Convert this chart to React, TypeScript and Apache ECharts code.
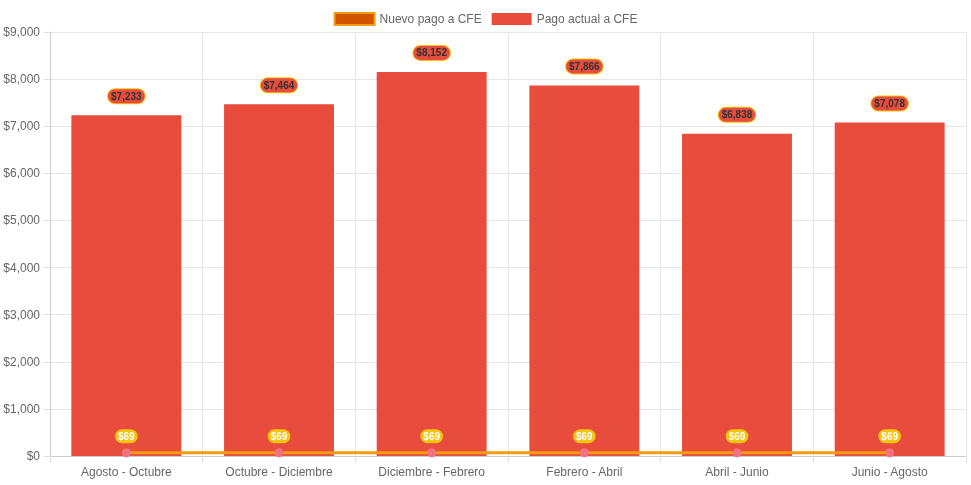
import React, { useEffect, useRef } from "react";
import * as echarts from "echarts";

const categories = [
  "Agosto - Octubre",
  "Octubre - Diciembre",
  "Diciembre - Febrero",
  "Febrero - Abril",
  "Abril - Junio",
  "Junio - Agosto",
];
const pagoActual = [7233, 7464, 8152, 7866, 6838, 7078];
const nuevoPago = [69, 69, 69, 69, 69, 69];
const seriesNames = ["Nuevo pago a CFE", "Pago actual a CFE"];

const fmt = (v: number) => "$" + v.toLocaleString("en-US");

export default function App() {
  const ref = useRef<HTMLDivElement>(null);
  useEffect(() => {
    if (!ref.current) return;
    const chart = echarts.init(ref.current, undefined, { renderer: "svg" });
    const font = "'Liberation Sans', Arial, Helvetica, sans-serif";
    chart.setOption({
      animation: false,
      textStyle: { fontFamily: font },
      legend: {
        top: 7,
        left: "center",
        itemWidth: 40,
        itemHeight: 12,
        itemGap: 10,
        textStyle: { color: "#666", fontSize: 12, fontFamily: font },
        data: [
          {
            name: seriesNames[0],
            icon: "rect",
            itemStyle: { color: "#d35400", borderColor: "#f39c12", borderWidth: 2 },
          },
          { name: seriesNames[1], icon: "rect", itemStyle: { color: "#e74c3c" } },
        ],
      },
      grid: { left: 50, right: 5, top: 32, bottom: 29, containLabel: false },
      xAxis: {
        type: "category",
        data: categories,
        boundaryGap: true,
        axisLine: { show: true, lineStyle: { color: "#ccc" } },
        axisTick: { show: true, length: 7, lineStyle: { color: "#e0e0e0" } },
        axisLabel: { color: "#666", fontSize: 12, margin: 10, fontFamily: font },
        splitLine: { show: true, lineStyle: { color: "#e6e6e6" } },
      },
      yAxis: {
        type: "value",
        min: 0,
        max: 9000,
        interval: 1000,
        axisLine: { show: true, lineStyle: { color: "#ccc" } },
        axisTick: { show: true, length: 6, lineStyle: { color: "#e0e0e0" } },
        axisLabel: {
          color: "#666",
          fontSize: 12,
          margin: 10,
          fontFamily: font,
          formatter: (v: number) => fmt(v),
        },
        splitLine: { show: true, lineStyle: { color: "#e6e6e6" } },
      },
      series: [
        {
          name: seriesNames[1],
          type: "bar",
          data: pagoActual,
          barWidth: "72%",
          z: 2,
          itemStyle: { color: "#e74c3c" },
          label: {
            show: true,
            position: "top",
            distance: 12,
            formatter: (p: any) => fmt(p.value),
            backgroundColor: "#e74c3c",
            borderColor: "#f1c40f",
            borderWidth: 1,
            borderRadius: 7,
            padding: [2, 3],
            color: "#333",
            fontWeight: "bold",
            fontSize: 10,
            fontFamily: font,
          },
        },
        {
          name: seriesNames[0],
          type: "line",
          data: nuevoPago,
          z: 5,
          symbol: "circle",
          symbolSize: 9,
          lineStyle: { color: "#f39c12", width: 3 },
          itemStyle: { color: "#f3737c", borderColor: "#f39c12", borderWidth: 0 },
          label: {
            show: true,
            position: "top",
            distance: 5,
            formatter: (p: any) => fmt(p.value),
            backgroundColor: "#f1c40f",
            borderRadius: 7,
            padding: [2, 3],
            color: "#fff",
            fontWeight: "bold",
            fontSize: 10,
            fontFamily: font,
          },
        },
      ],
    });
    return () => chart.dispose();
  }, []);
  return (
    <div
      ref={ref}
      style={{ position: "fixed", left: 0, top: 0, width: 971, height: 485 }}
    />
  );
}
